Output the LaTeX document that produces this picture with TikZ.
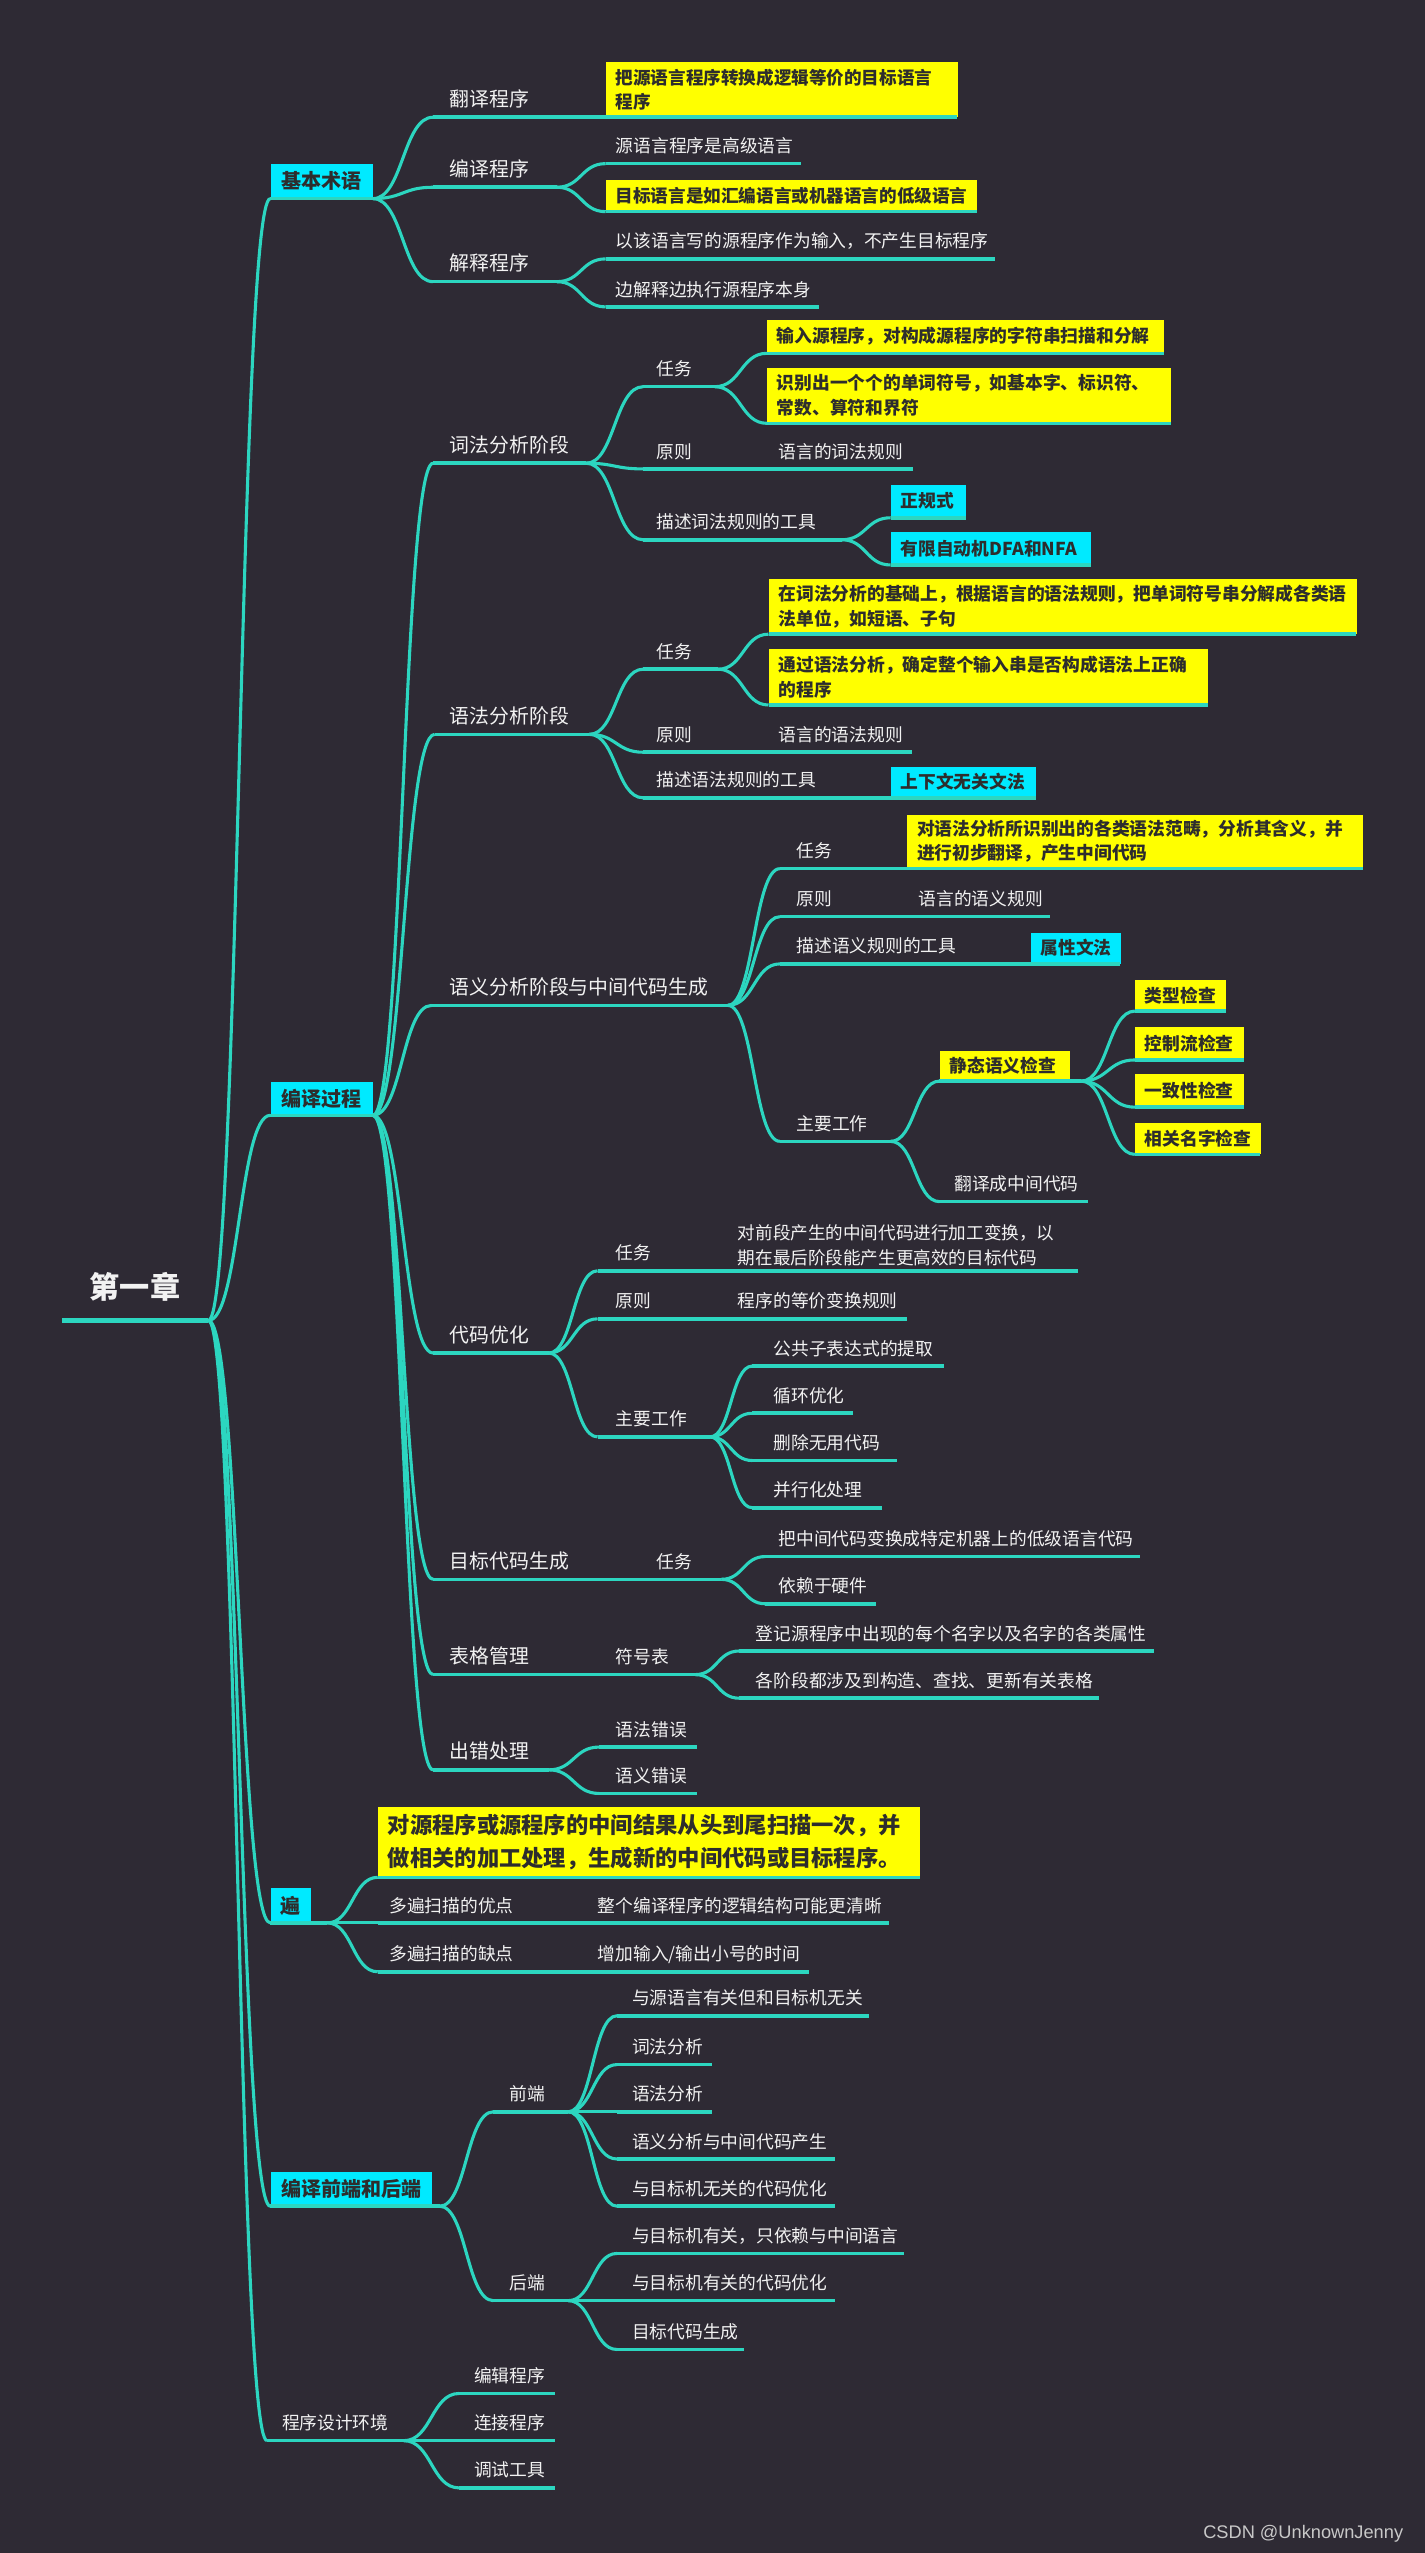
\documentclass[tikz,border=0pt]{standalone}
\usepackage{fontspec}
\setmainfont{Noto Sans CJK SC}
\newfontfamily\wmfont{Liberation Sans}
\usetikzlibrary{calc}
\definecolor{bgc}{RGB}{46,42,52}
\definecolor{tealc}{RGB}{44,214,192}
\definecolor{cyanb}{RGB}{0,234,255}
\definecolor{yelb}{RGB}{255,255,0}
\definecolor{dtxt}{RGB}{45,45,45}
\definecolor{wtxt}{RGB}{242,242,242}
\definecolor{wmc}{RGB}{200,200,200}
\tikzset{
 uline/.style={draw=tealc, line width=2.2pt},
 conn/.style={draw=tealc, line width=1.9pt},
 lbl/.style={anchor=base west, inner sep=0pt, text=wtxt, font=\fontsize{10.9}{15}\selectfont},
 lblA/.style={lbl, font=\fontsize{12.2}{15}\selectfont},
 lbl2/.style={anchor=south west, inner sep=0pt, text=wtxt, align=left, font=\fontsize{10.8}{15}\selectfont},
 ybox/.style={anchor=south west, fill=yelb, inner xsep=6pt, inner ysep=1pt, align=left, text=dtxt, font=\fontsize{10.9}{15}\selectfont\bfseries},
 ysm/.style={ybox, font=\fontsize{10.8}{15}\selectfont\bfseries},
 cbox/.style={ybox, fill=cyanb},
 cbig/.style={cbox, align=center, font=\fontsize{12.3}{15}\selectfont\bfseries},
 ybig/.style={ybox, font=\fontsize{13.7}{20}\selectfont\bfseries},
 rootlbl/.style={anchor=base west, inner sep=0pt, text=wtxt, font=\fontsize{18.5}{20}\selectfont\bfseries},
 wm/.style={anchor=base east, inner sep=0pt, text=wmc, font=\wmfont\fontsize{11.2}{13}\selectfont},
}
% white label: [style]{name}{xl}{xr}{y}{textx}{text}
\newcommand\mmW[7][lbl]{%
 \coordinate (#2-l) at (#3,#5); \coordinate (#2-r) at (#4,#5);
 \draw[uline] (#2-l) -- (#2-r);
 \node[#1] (#2) at (#6,#5-6.7) {#7};}
% box: {style}{name}{xl}{xr}{ytop}{ybot}{text}
\newcommand\mmB[7]{%
 \pgfmathsetmacro\mmwd{#4-#3}\pgfmathsetmacro\mmht{#6-#5}\pgfmathsetmacro\mmtw{#4-#3-12}%
 \coordinate (#2-l) at (#3,#6); \coordinate (#2-r) at (#4,#6);
 \node[#1, minimum width=\mmwd pt, minimum height=\mmht pt, text width=\mmtw pt] (#2) at (#3,#6) {#7};
 \draw[uline] (#2-l) -- (#2-r);}
% connector from coordinate to coordinate
\newcommand\mmC[2]{\draw[conn] let \p1=(#1), \p2=(#2) in (\p1) .. controls ({(\x1+\x2)/2},\y1) and ({(\x1+\x2)/2},\y2) .. (\p2);}
\begin{document}
\begin{tikzpicture}[x=1pt,y=-1pt]
\fill[bgc] (0,0) rectangle (875,1568);
\useasboundingbox (0,0) rectangle (875,1568);
% root
\coordinate (root-l) at (38,811); \coordinate (root-r) at (128,811);
\draw[uline, line width=2.6pt] (root-l) -- (root-r);
\node[rootlbl] (root) at (55,797.5) {第一章};
% level 1
\mmB{cbig}{jb}{166}{229}{101}{122}{基本术语}
\mmB{cbig}{cp}{166}{229}{665}{685}{编译过程}
\mmB{cbig}{bian}{166}{191}{1160}{1181}{遍}
\coordinate (bian-f) at (201,1181); \draw[uline] (bian-r) -- (bian-f);
\mmB{cbig}{qh}{166}{265}{1334}{1355}{编译前端和后端}
\coordinate (qh-f) at (270,1355); \draw[uline] (qh-r) -- (qh-f);
\mmW{env}{164}{248}{1499}{173}{程序设计环境}
\mmC{root-r}{jb-l}
\mmC{root-r}{cp-l}
\mmC{root-r}{bian-l}
\mmC{root-r}{qh-l}
\mmC{root-r}{env-l}
% ---- 基本术语
\mmW[lblA]{fy}{266}{372}{72}{276}{翻译程序}
\mmB{ysm}{fy1}{372}{588}{38.5}{72}{把源语言程序转换成逻辑等价的目标语言\\程序}
\mmW[lblA]{byc}{266}{342}{115}{276}{编译程序}
\mmW{byc1}{372}{492}{100.5}{378}{源语言程序是高级语言}
\mmB{ysm}{byc2}{372}{600}{110.5}{130}{目标语言是如汇编语言或机器语言的低级语言}
\mmW[lblA]{jsc}{266}{342}{173}{276}{解释程序}
\mmW{jsc1}{372}{611}{159}{378}{以该语言写的源程序作为输入，不产生目标程序}
\mmW{jsc2}{372}{503}{188.5}{378}{边解释边执行源程序本身}
\mmC{jb-r}{fy-l}\mmC{jb-r}{byc-l}\mmC{jb-r}{jsc-l}
\mmC{fy-r}{fy1-l}
\mmC{byc-r}{byc1-l}\mmC{byc-r}{byc2-l}
\mmC{jsc-r}{jsc1-l}\mmC{jsc-r}{jsc2-l}
% ---- 编译过程: 词法
\mmW[lblA]{cf}{266}{360}{284.5}{276}{词法分析阶段}
\mmW{cfrw}{395}{439}{237.5}{403}{任务}
\mmB{ybox}{cfrw1}{471}{715}{196.5}{217}{输入源程序，对构成源程序的字符串扫描和分解}
\mmB{ybox}{cfrw2}{471}{719}{226}{260}{识别出一个个的单词符号，如基本字、标识符、\\常数、算符和界符}
\mmW{cfyz}{395}{470}{288}{403}{原则}
\mmW{cfyz1}{470}{561}{288}{478}{语言的词法规则}
\mmW{cfgj}{395}{517}{331.5}{403}{描述词法规则的工具}
\mmB{cbox}{cfgj1}{547}{593}{298}{318}{正规式}
\mmB{cbox}{cfgj2}{547}{670}{327}{347}{有限自动机DFA和NFA}
\mmC{cp-r}{cf-l}
\mmC{cf-r}{cfrw-l}\mmC{cf-r}{cfyz-l}\mmC{cf-r}{cfgj-l}
\mmC{cfrw-r}{cfrw1-l}\mmC{cfrw-r}{cfrw2-l}
\mmC{cfyz-r}{cfyz1-l}
\mmC{cfgj-r}{cfgj1-l}\mmC{cfgj-r}{cfgj2-l}
% 语法
\mmW[lblA]{yf}{267}{362}{451}{276}{语法分析阶段}
\mmW{yfrw}{395}{441}{411}{403}{任务}
\mmB{ybox}{yfrw1}{472}{833}{356}{389.5}{在词法分析的基础上，根据语言的语法规则，把单词符号串分解成各类语\\法单位，如短语、子句}
\mmB{ybox}{yfrw2}{472}{742}{399}{433}{通过语法分析，确定整个输入串是否构成语法上正确\\的程序}
\mmW{yfyz}{395}{470}{462}{403}{原则}
\mmW{yfyz1}{470}{560}{462}{478}{语言的语法规则}
\mmW{yfgj}{395}{547}{490}{403}{描述语法规则的工具}
\mmB{cbox}{yfgj1}{547}{636}{471}{490}{上下文无关文法}
\mmC{cp-r}{yf-l}
\mmC{yf-r}{yfrw-l}\mmC{yf-r}{yfyz-l}\mmC{yf-r}{yfgj-l}
\mmC{yfrw-r}{yfrw1-l}\mmC{yfrw-r}{yfrw2-l}
\mmC{yfyz-r}{yfyz1-l}
\mmC{yfgj-r}{yfgj1-l}
% 语义
\mmW[lblA]{yy}{265}{447}{617.5}{276}{语义分析阶段与中间代码生成}
\mmW{yyrw}{479}{557}{533.5}{489}{任务}
\mmB{ybox}{yyrw1}{557}{837}{500.5}{533.5}{对语法分析所识别出的各类语法范畴，分析其含义，并\\进行初步翻译，产生中间代码}
\mmW{yyyz}{479}{557}{563}{489}{原则}
\mmW{yyyz1}{557}{645}{563}{564}{语言的语义规则}
\mmW{yygj}{479}{633}{592}{489}{描述语义规则的工具}
\mmB{cbox}{yygj1}{633}{688}{573}{592}{属性文法}
\mmW{yyzy}{479}{547}{701}{489}{主要工作}
\mmB{ybox}{jt}{577}{657}{646}{664}{静态语义检查}
\coordinate (jt-f) at (664,664); \draw[uline] (jt-r) -- (jt-f);
\mmB{ybox}{jt1}{697}{753}{602}{621}{类型检查}
\mmB{ybox}{jt2}{697}{764}{631}{651}{控制流检查}
\mmB{ybox}{jt3}{697}{764}{660}{680}{一致性检查}
\mmB{ybox}{jt4}{697}{774}{690}{709}{相关名字检查}
\mmW{yyzy2}{577}{668}{738}{586}{翻译成中间代码}
\mmC{cp-r}{yy-l}
\mmC{yy-r}{yyrw-l}\mmC{yy-r}{yyyz-l}\mmC{yy-r}{yygj-l}\mmC{yy-r}{yyzy-l}
\mmC{yyrw-r}{yyrw1-l}
\mmC{yyyz-r}{yyyz1-l}
\mmC{yygj-r}{yygj1-l}
\mmC{yyzy-r}{jt-l}\mmC{yyzy-r}{yyzy2-l}
\mmC{jt-f}{jt1-l}\mmC{jt-f}{jt2-l}\mmC{jt-f}{jt3-l}\mmC{jt-f}{jt4-l}
% 代码优化
\mmW[lblA]{dm}{266}{337}{831}{276}{代码优化}
\mmW{dmrw}{367}{445}{780.5}{378}{任务}
\coordinate (dmrw1-l) at (445,780.5); \coordinate (dmrw1-r) at (662,780.5);
\draw[uline] (dmrw1-l) -- (dmrw1-r);
\node[lbl2] (dmrw1) at (453,777.5) {对前段产生的中间代码进行加工变换，以\\期在最后阶段能产生更高效的目标代码};
\mmW{dmyz}{367}{445}{810}{378}{原则}
\mmW{dmyz1}{445}{557}{810}{453}{程序的等价变换规则}
\mmW{dmzy}{367}{436}{882.5}{378}{主要工作}
\mmW{dmzy1}{462}{580}{839}{475}{公共子表达式的提取}
\mmW{dmzy2}{462}{524}{868}{475}{循环优化}
\mmW{dmzy3}{462}{551}{897}{475}{删除无用代码}
\mmW{dmzy4}{462}{542}{926}{475}{并行化处理}
\mmC{cp-r}{dm-l}
\mmC{dm-r}{dmrw-l}\mmC{dm-r}{dmyz-l}\mmC{dm-r}{dmzy-l}
\mmC{dmrw-r}{dmrw1-l}
\mmC{dmyz-r}{dmyz1-l}
\mmC{dmzy-r}{dmzy1-l}\mmC{dmzy-r}{dmzy2-l}\mmC{dmzy-r}{dmzy3-l}\mmC{dmzy-r}{dmzy4-l}
% 目标代码生成
\mmW[lblA]{mb}{266}{395}{970}{276}{目标代码生成}
\mmW{mbrw}{395}{443}{970}{403}{任务}
\mmW{mbrw1}{470}{700}{956}{478}{把中间代码变换成特定机器上的低级语言代码}
\mmW{mbrw2}{470}{538}{985}{478}{依赖于硬件}
\mmC{cp-r}{mb-l}
\mmC{mb-r}{mbrw-l}
\mmC{mbrw-r}{mbrw1-l}\mmC{mbrw-r}{mbrw2-l}
% 表格管理
\mmW[lblA]{bgm}{266}{370}{1028.5}{276}{表格管理}
\mmW{fhb}{370}{427}{1028.5}{378}{符号表}
\mmW{fhb1}{454}{709}{1014}{464}{登记源程序中出现的每个名字以及名字的各类属性}
\mmW{fhb2}{454}{675}{1043}{464}{各阶段都涉及到构造、查找、更新有关表格}
\mmC{cp-r}{bgm-l}
\mmC{bgm-r}{fhb-l}
\mmC{fhb-r}{fhb1-l}\mmC{fhb-r}{fhb2-l}
% 出错处理
\mmW[lblA]{cc}{266}{337}{1087}{276}{出错处理}
\mmW{cc1}{368}{428}{1073}{378}{语法错误}
\mmW{cc2}{368}{428}{1101.5}{378}{语义错误}
\mmC{cp-r}{cc-l}
\mmC{cc-r}{cc1-l}\mmC{cc-r}{cc2-l}
% ---- 遍
\mmB{ybig}{bian1}{232}{565}{1110}{1153}{对源程序或源程序的中间结果从头到尾扫描一次，并\\做相关的加工处理，生成新的中间代码或目标程序。}
\mmW{bian2}{232}{360}{1181}{239}{多遍扫描的优点}
\mmW{bian21}{360}{546}{1181}{367}{整个编译程序的逻辑结构可能更清晰}
\mmW{bian3}{232}{360}{1211}{239}{多遍扫描的缺点}
\mmW{bian31}{360}{497}{1211}{367}{增加输入/输出小号的时间}
\mmC{bian-f}{bian1-l}\mmC{bian-f}{bian2-l}\mmC{bian-f}{bian3-l}
\mmC{bian2-r}{bian21-l}\mmC{bian3-r}{bian31-l}
% ---- 编译前端和后端
\mmW{qd}{303}{349}{1297}{313}{前端}
\mmW{qd1}{379}{534}{1238}{388}{与源语言有关但和目标机无关}
\mmW{qd2}{379}{437}{1268}{388}{词法分析}
\mmW{qd3}{379}{437}{1297}{388}{语法分析}
\mmW{qd4}{379}{513}{1326}{388}{语义分析与中间代码产生}
\mmW{qd5}{379}{513}{1355}{388}{与目标机无关的代码优化}
\mmW{hd}{303}{349}{1413}{313}{后端}
\mmW{hd1}{379}{555}{1384}{388}{与目标机有关，只依赖与中间语言}
\mmW{hd2}{379}{513}{1413}{388}{与目标机有关的代码优化}
\mmW{hd3}{379}{457}{1443}{388}{目标代码生成}
\mmC{qh-f}{qd-l}\mmC{qh-f}{hd-l}
\mmC{qd-r}{qd1-l}\mmC{qd-r}{qd2-l}\mmC{qd-r}{qd3-l}\mmC{qd-r}{qd4-l}\mmC{qd-r}{qd5-l}
\mmC{hd-r}{hd1-l}\mmC{hd-r}{hd2-l}\mmC{hd-r}{hd3-l}
% ---- 程序设计环境
\mmW{env1}{282}{341}{1470}{291}{编辑程序}
\mmW{env2}{282}{341}{1499}{291}{连接程序}
\mmW{env3}{282}{341}{1528}{291}{调试工具}
\mmC{env-r}{env1-l}\mmC{env-r}{env2-l}\mmC{env-r}{env3-l}
% watermark
\node[wm] (wmk) at (862,1559) {CSDN @UnknownJenny};
\end{tikzpicture}
\end{document}
